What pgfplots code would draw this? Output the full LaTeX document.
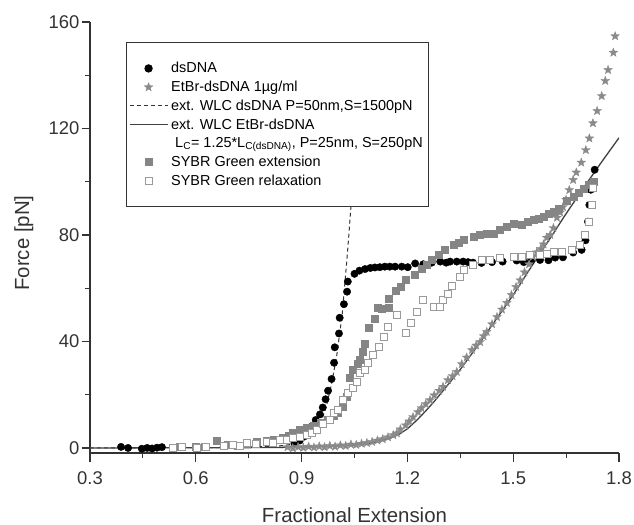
\documentclass[border=0pt]{standalone}
\usepackage{pgfplots}
\pgfplotsset{compat=1.18}
\usepackage{fontspec}
\setmainfont{Liberation Sans}
\usetikzlibrary{plotmarks}
\pgfdeclareplotmark{fstar}{%
  \pgfpathmoveto{\pgfpointpolar{90}{\pgfplotmarksize}}%
  \pgfpathlineto{\pgfpointpolar{126}{0.42\pgfplotmarksize}}%
  \pgfpathlineto{\pgfpointpolar{162}{\pgfplotmarksize}}%
  \pgfpathlineto{\pgfpointpolar{198}{0.42\pgfplotmarksize}}%
  \pgfpathlineto{\pgfpointpolar{234}{\pgfplotmarksize}}%
  \pgfpathlineto{\pgfpointpolar{270}{0.42\pgfplotmarksize}}%
  \pgfpathlineto{\pgfpointpolar{306}{\pgfplotmarksize}}%
  \pgfpathlineto{\pgfpointpolar{342}{0.42\pgfplotmarksize}}%
  \pgfpathlineto{\pgfpointpolar{18}{\pgfplotmarksize}}%
  \pgfpathlineto{\pgfpointpolar{54}{0.42\pgfplotmarksize}}%
  \pgfpathclose\pgfusepathqfillstroke}
\definecolor{axcol}{HTML}{333333}
\definecolor{stargray}{HTML}{8A8A8A}
\definecolor{sqgray}{HTML}{858585}
\definecolor{opengray}{HTML}{9A9A9A}
\pgfplotsset{lg/.style={legend image code/.code={\draw[mark repeat=2,mark phase=2,##1] plot coordinates {(0bp,0bp) (19bp,0bp) (38bp,0bp)};}}}
\begin{document}
\begin{tikzpicture}
\begin{axis}[
  at={(0,0)}, anchor=south west,
  scale only axis, width=529bp, height=431bp,
  xmin=0.3, xmax=1.8, ymin=-1.9, ymax=160,
  axis lines=left, axis line style={-, axcol, line width=1.6bp},
  tick style={axcol, line width=1.2bp},
  tick align=outside,
  major tick length=8.5bp, minor tick length=5bp,
  xtick={0.3,0.6,0.9,1.2,1.5,1.8},
  xticklabels={0.3,0.6,0.9,1.2,1.5,1.8},
  minor x tick num=1,
  ytick={0,40,80,120,160},
  minor y tick num=1,
  /pgf/number format/assume math mode=true,
  ticklabel style={font=\fontsize{18.5}{20}\selectfont, text=axcol},
  xticklabel style={inner sep=0pt, yshift=-10bp},
  yticklabel style={inner sep=0pt, xshift=-2bp},
  xlabel={Fractional Extension},
  ylabel={Force [pN]},
  label style={font=\fontsize{20.5}{22}\selectfont, text=axcol},
  xlabel style={at={(axis description cs:0.5,0)}, anchor=base, yshift=-69bp, inner sep=0pt},
  ylabel style={at={(axis description cs:-0.1153,0.487)}, anchor=base, inner sep=0pt},
  legend cell align=left,
  legend style={at={(axis description cs:0.068,0.9536)}, anchor=north west,
    draw=axcol, line width=0.9bp, fill=white,
    inner xsep=2.5bp, inner ysep=19bp, row sep=4.8bp,
    font=\fontsize{14.5}{17}\selectfont,
    nodes={inner xsep=3bp, inner ysep=1bp}},
]
% dsDNA
\addplot[only marks, mark=*, mark size=3.7bp, black, lg] coordinates {
(0.388,0.4) (0.408,0.0) (0.447,-0.3) (0.462,0.0) (0.476,-0.2) (0.490,0.1) (0.504,0.3)
(0.880,1.5) (0.895,2.8) (0.906,4.2) (0.916,5.8) (0.928,8.0) (0.940,10.5) (0.952,12.6)
(0.960,15.2) (0.968,18.3) (0.975,21.5) (0.985,25.9) (0.992,32.0) (0.994,37.8) (1.006,43.0)
(1.008,48.9) (1.020,54.0) (1.029,58.7) (1.031,62.5) (1.050,65.4) (1.064,66.6) (1.080,67.2)
(1.095,67.6) (1.108,67.8) (1.122,67.9) (1.136,68.1) (1.150,68.1) (1.165,68.1) (1.184,68.1)
(1.201,67.9) (1.222,69.3) (1.245,69.0) (1.269,69.6) (1.293,70.0) (1.310,69.6) (1.321,70.0)
(1.340,70.0) (1.358,70.0) (1.372,69.8) (1.386,69.6) (1.410,69.5) (1.440,69.8) (1.470,70.0)
(1.510,70.4) (1.530,69.8) (1.550,70.2) (1.576,70.6) (1.600,70.5) (1.619,71.5) (1.641,71.6)
(1.670,73.4) (1.694,74.4) (1.705,78.0) (1.712,85.0) (1.716,91.3) (1.720,97.0) (1.731,104.5)
};
\addlegendentry{dsDNA}
% EtBr-dsDNA
\addplot[only marks, mark=fstar, mark size=4.6bp, draw=stargray, fill=stargray, line width=0.3bp, lg] coordinates {
(0.860,0.3) (0.875,-0.1) (0.890,0.4) (0.905,0.1) (0.920,0.5) (0.935,0.2) (0.950,0.6)
(0.965,0.3) (0.980,0.8) (0.995,0.5) (1.010,1.0) (1.025,0.8) (1.040,1.3) (1.055,1.2)
(1.070,1.6) (1.085,1.9) (1.100,2.3) (1.115,2.8) (1.130,3.3) (1.145,4.0) (1.160,4.8)
(1.170,5.5) (1.180,7.0) (1.195,8.5) (1.205,10.0) (1.216,11.6) (1.230,13.5) (1.240,15.0)
(1.252,16.5) (1.264,18.0) (1.276,19.8) (1.290,21.5) (1.301,23.0) (1.315,25.5) (1.328,27.0)
(1.340,28.6) (1.354,31.5) (1.368,34.0) (1.383,36.8) (1.395,38.5) (1.406,39.8) (1.416,42.0)
(1.425,43.6) (1.440,46.5) (1.454,49.2) (1.468,52.0) (1.482,54.5) (1.495,57.5) (1.508,60.5)
(1.520,63.0) (1.532,66.0) (1.545,69.0) (1.556,71.9) (1.567,73.5) (1.578,74.8) (1.586,76.5)
(1.595,79.0) (1.605,80.0) (1.614,82.6) (1.624,86.5) (1.633,88.5) (1.641,90.5) (1.650,93.2)
(1.659,96.9) (1.670,100.7) (1.679,103.5) (1.693,107.2) (1.706,111.9) (1.716,116.3)
(1.726,122.0) (1.738,126.6) (1.751,132.2) (1.761,137.9) (1.769,142.0) (1.784,148.5) (1.789,154.7)
};
\addlegendentry{EtBr-dsDNA 1µg/ml}
% ext. WLC dsDNA (dashed)
\addplot[axcol, line width=1bp, dash pattern=on 4bp off 3bp, lg] coordinates {
(0.30,0) (0.60,0.1) (0.70,0.2) (0.80,0.5) (0.85,0.9) (0.88,1.6) (0.90,2.5) (0.92,4.0)
(0.94,6.5) (0.95,9.0) (0.96,11.5) (0.97,15.5) (0.985,24) (1.00,35) (1.015,50)
(1.028,70) (1.034,80) (1.040,91) (1.046,102)
};
\addlegendentry{ext. WLC dsDNA P=50nm,S=1500pN}
% ext. WLC EtBr-dsDNA (solid)
\addplot[black!75, line width=1.3bp, lg] coordinates {
(0.30,0) (0.60,0.05) (0.80,0.15) (0.90,0.3) (1.00,0.7) (1.05,1.1) (1.10,1.9) (1.15,3.6)
(1.175,5.0) (1.20,7.2) (1.225,10.2) (1.25,13.6) (1.275,17.3) (1.30,21.3) (1.35,29.5)
(1.40,38.5) (1.45,48.0) (1.50,57.5) (1.55,67.8) (1.60,77.8) (1.65,88.0) (1.70,97.8)
(1.75,107.3) (1.80,116.5)
};
\addlegendentry{ext. WLC EtBr-dsDNA}
\addlegendimage{empty legend}
\addlegendentry{\hspace{4bp}L\textsubscript{C}= 1.25*L\textsubscript{C(dsDNA)}, P=25nm, S=250pN}
% SYBR Green extension
\addplot[only marks, mark=square*, mark size=3.5bp, draw=sqgray, fill=sqgray, lg] coordinates {
(0.555,0.3) (0.600,0.6) (0.625,0.3) (0.659,2.6) (0.690,1.2) (0.720,1.0) (0.745,1.5)
(0.773,2.4) (0.800,2.6) (0.820,3.2) (0.845,3.8) (0.862,4.5) (0.876,5.6) (0.896,6.8)
(0.915,7.5) (0.935,8.5) (0.955,9.5) (0.975,10.5) (0.990,12.0) (1.003,13.1) (1.017,15.4)
(1.028,19.3) (1.037,26.2) (1.045,29.3) (1.058,31.5) (1.066,33.0) (1.073,36.2) (1.080,39.2)
(1.089,45.3) (1.108,48.7) (1.115,52.5) (1.126,52.3) (1.146,52.5) (1.146,56.1) (1.167,59.2)
(1.181,60.6) (1.196,63.1) (1.222,65.0) (1.241,67.5) (1.255,69.0) (1.269,70.6) (1.288,72.5)
(1.307,74.4) (1.330,76.2) (1.345,77.2) (1.359,78.1) (1.387,79.4) (1.405,80.0) (1.425,80.6)
(1.444,80.6) (1.463,81.9) (1.482,83.0) (1.501,84.4) (1.524,83.8) (1.540,84.8) (1.557,85.6)
(1.572,86.2) (1.586,86.9) (1.600,88.0) (1.614,88.8) (1.628,90.0) (1.652,92.8) (1.671,94.4)
(1.685,96.0) (1.699,97.5) (1.713,99.0) (1.727,100.0)
};
\addlegendentry{SYBR Green extension}
% SYBR Green relaxation
\addplot[only marks, mark=square*, mark size=3.5bp, draw=opengray, fill=white, line width=0.8bp, lg] coordinates {
(0.535,0.0) (0.560,0.3) (0.602,0.0) (0.630,0.4) (0.680,0.8) (0.706,1.1) (0.725,0.6)
(0.744,1.9) (0.770,1.5) (0.801,2.4) (0.820,2.0) (0.839,3.0) (0.858,3.0) (0.876,3.8)
(0.895,4.0) (0.915,4.9) (0.930,5.5) (0.943,6.8) (0.961,9.2) (0.981,10.5) (0.992,13.1)
(1.004,14.3) (1.017,18.0) (1.030,20.5) (1.045,22.5) (1.056,24.9) (1.066,28.1) (1.080,29.3)
(1.089,31.8) (1.103,34.9) (1.118,38.0) (1.132,41.8) (1.146,45.6) (1.170,50.0) (1.195,43.1)
(1.210,46.8) (1.228,51.0) (1.245,55.6) (1.274,53.1) (1.293,53.1) (1.300,55.6) (1.315,58.0)
(1.325,61.0) (1.348,64.3) (1.359,66.9) (1.387,68.7) (1.411,70.6) (1.434,70.6) (1.463,71.3)
(1.501,71.9) (1.524,71.9) (1.548,72.5) (1.576,72.5) (1.595,73.0) (1.614,73.7) (1.638,73.7)
(1.666,74.4) (1.689,76.2) (1.704,80.0) (1.715,85.0) (1.723,91.3) (1.727,97.5)
};
\addlegendentry{SYBR Green relaxation}
\end{axis}
\pgfresetboundingbox
\path (-90bp,-72bp) rectangle (544bp,453bp);
\end{tikzpicture}
\end{document}
